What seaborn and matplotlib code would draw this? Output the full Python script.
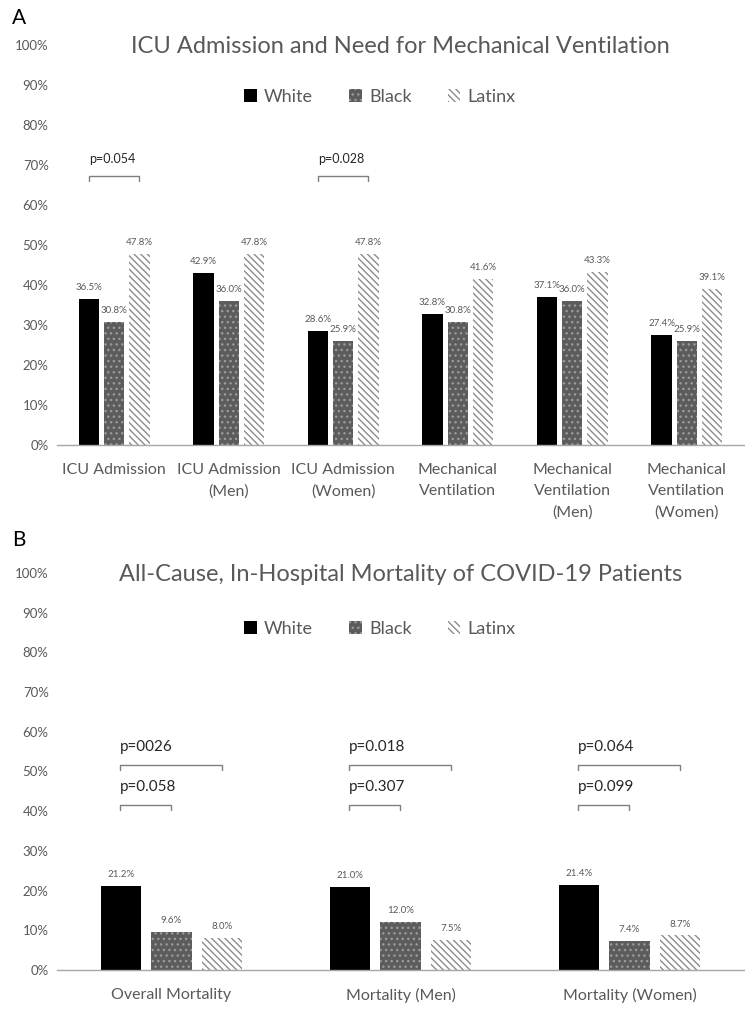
import matplotlib
matplotlib.use("Agg")
import matplotlib.pyplot as plt
import seaborn as sns
import pandas as pd
from matplotlib.patches import Patch

# ---- data ----
groups = ["White", "Black", "Latinx"]

cats_a = ["ICU Admission", "ICU Admission\n(Men)", "ICU Admission\n(Women)",
          "Mechanical\nVentilation", "Mechanical\nVentilation\n(Men)",
          "Mechanical\nVentilation\n(Women)"]
white_a = [36.5, 42.9, 28.6, 32.8, 37.1, 27.4]
black_a = [30.8, 36.0, 25.9, 30.8, 36.0, 25.9]
latinx_a = [47.8, 47.8, 47.8, 41.6, 43.3, 39.1]

cats_b = ["Overall Mortality", "Mortality (Men)", "Mortality (Women)"]
white_b = [21.2, 21.0, 21.4]
black_b = [9.6, 12.0, 7.4]
latinx_b = [8.0, 7.5, 8.7]

title_a = "ICU Admission and Need for Mechanical Ventilation"
title_b = "All-Cause, In-Hospital Mortality of COVID-19 Patients"

# p-value brackets: (category index, from group, to group, text)
pvals_a = [(0, 0, 2, "p=0.054"), (2, 0, 2, "p=0.028")]
pvals_b = [(0, 0, 1, "p=0.058"), (0, 0, 2, "p=0026"),
           (1, 0, 1, "p=0.307"), (1, 0, 2, "p=0.018"),
           (2, 0, 1, "p=0.099"), (2, 0, 2, "p=0.064")]

yticks = [0, 10, 20, 30, 40, 50, 60, 70, 80, 90, 100]
ytick_labels = [f"{v}%" for v in yticks]

# ---- style ----
sns.set_theme(style="white")
plt.rcParams["font.family"] = ["Lato", "DejaVu Sans"]
plt.rcParams["hatch.linewidth"] = 1.0

GRAY_TXT = "#595959"
face = {"White": "#000000", "Black": "#5c5c5c", "Latinx": "#ffffff"}
edge = {"White": "#000000", "Black": "#9a9a9a", "Latinx": "#8c8c8c"}
hatch = {"White": "", "Black": "...", "Latinx": "\\\\\\\\\\"}

fig = plt.figure(figsize=(7.45, 10.29), dpi=100)
L = 57 / 745
W = (744 - 57) / 745
ax_a = fig.add_axes([L, 1 - 445 / 1029, W, 400 / 1029])
ax_b = fig.add_axes([L, 1 - 970 / 1029, W, 397 / 1029])


def make_df(cats, w, b, l):
    rows = []
    for c, a1, a2, a3 in zip(cats, w, b, l):
        rows += [(c, "White", a1), (c, "Black", a2), (c, "Latinx", a3)]
    return pd.DataFrame(rows, columns=["cat", "group", "val"])


def draw(ax, cats, w, b, l, title, pvals, xfs, ylegend, ytitle, xtitle):
    df = make_df(cats, w, b, l)
    sns.barplot(data=df, x="cat", y="val", hue="group", hue_order=groups,
                order=cats, width=0.66, gap=0.2, ax=ax, legend=False,
                errorbar=None, palette=face)
    bar_info = {}
    for gi, cont in enumerate(ax.containers):
        g = groups[gi]
        for ci, patch in enumerate(cont):
            patch.set_facecolor(face[g])
            patch.set_edgecolor(edge[g])
            patch.set_hatch(hatch[g])
            patch.set_linewidth(0)
            bar_info[(ci, gi)] = patch.get_x() + patch.get_width() / 2
        ax.bar_label(cont, labels=[f"{v:.1f}%" for v in cont.datavalues],
                     padding=5, fontsize=7, color=GRAY_TXT)
    ax.set_ylim(0, 100)
    ax.set_xlim(-0.5, len(cats) - 0.5)
    ax.set_yticks(yticks)
    ax.set_yticklabels(ytick_labels, fontsize=9.5, color=GRAY_TXT)
    ax.set_xticks(range(len(cats)))
    ax.set_xticklabels(cats, fontsize=xfs, color=GRAY_TXT, linespacing=1.65)
    ax.tick_params(axis="both", length=0)
    ax.tick_params(axis="y", pad=6)
    ax.tick_params(axis="x", pad=13)
    ax.set_xlabel("")
    ax.set_ylabel("")
    sns.despine(ax=ax, left=True)
    ax.spines["bottom"].set_color("#a6a6a6")
    ax.spines["bottom"].set_linewidth(1.0)
    ax.text(xtitle, ytitle, title, transform=ax.transAxes,
            ha="center", va="center", fontsize=17, color=GRAY_TXT)
    handles = [Patch(facecolor=face[g], edgecolor=edge[g], hatch=hatch[g],
                     linewidth=0, label=g) for g in groups]
    ax.legend(handles=handles, loc="center", bbox_to_anchor=(0.47, ylegend),
              ncol=3, frameon=False, fontsize=13, handlelength=0.7,
              handleheight=0.7, handletextpad=0.4, columnspacing=2.0,
              labelcolor=GRAY_TXT)
    return bar_info


info_a = draw(ax_a, cats_a, white_a, black_a, latinx_a, title_a, pvals_a,
              11.5, 0.87, 0.995, 0.5)
info_b = draw(ax_b, cats_b, white_b, black_b, latinx_b, title_b, pvals_b,
              11.5, 0.86, 0.995, 0.5)


def bracket(ax, x0, x1, y, tick, txt, dy, fs):
    ax.plot([x0, x0, x1, x1], [y - tick, y, y, y - tick], color="#7f7f7f",
            lw=1.0, clip_on=False)
    ax.text(x0, y + dy, txt, ha="left", va="center", fontsize=fs,
            color="#262626")


for ci, g0, g1, txt in pvals_a:
    bracket(ax_a, info_a[(ci, g0)], info_a[(ci, g1)], 67.3, 1.3, txt, 4.3, 9)

for ci, g0, g1, txt in pvals_b:
    y = 41.6 if g1 == 1 else 51.6
    bracket(ax_b, info_b[(ci, g0)] - 0.005, info_b[(ci, g1)], y, 1.3, txt,
            4.6, 11)

fig.text(12 / 745, 1 - 18 / 1029, "A", fontsize=15, color="black",
         ha="left", va="center")
fig.text(12 / 745, 1 - 540 / 1029, "B", fontsize=15, color="black",
         ha="left", va="center")

fig.savefig("out.png", dpi=100, facecolor="white")
